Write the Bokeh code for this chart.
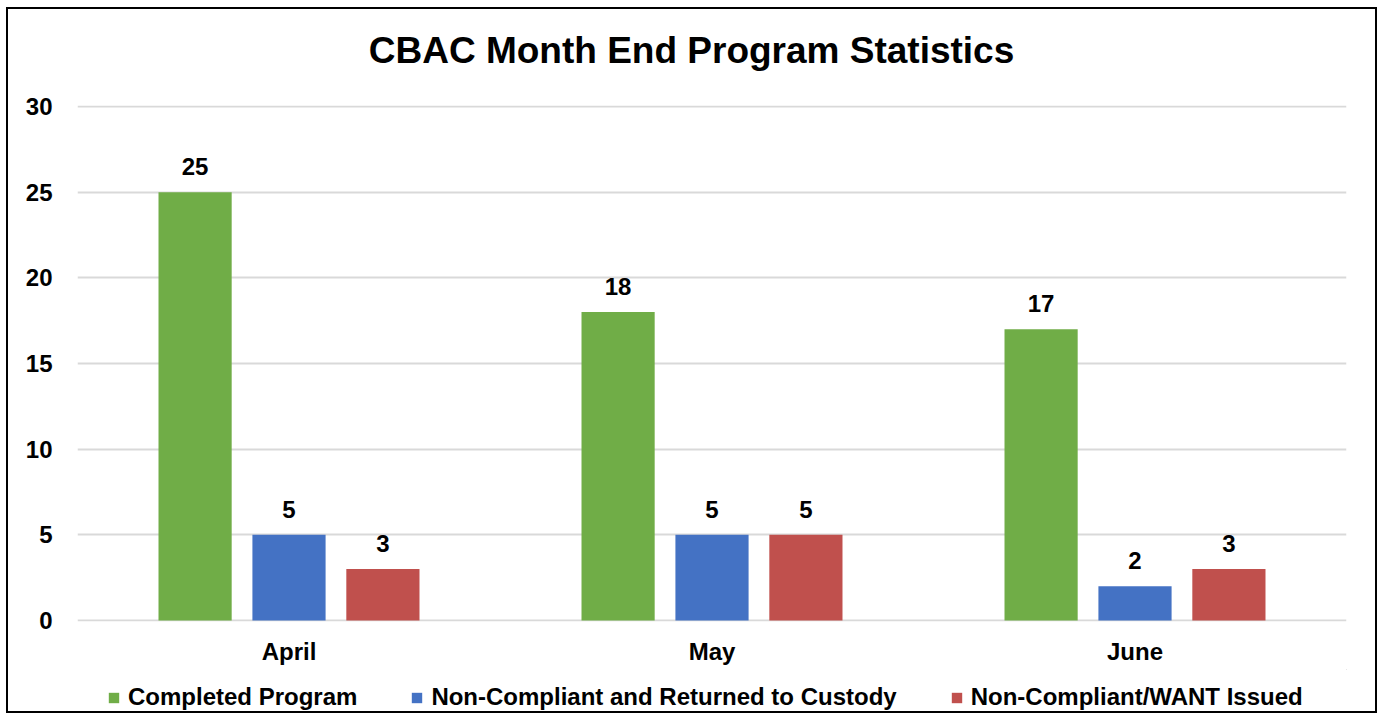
from bokeh.plotting import figure
from bokeh.layouts import column
from bokeh.models import ColumnDataSource, FactorRange, Range1d, Legend, LegendItem, LabelSet, Label
from bokeh.transform import dodge
from bokeh.core.properties import value
from bokeh.embed import file_html
from bokeh.resources import INLINE

months = ["April", "May", "June"]
completed = [25, 18, 17]
returned = [5, 5, 2]
want_issued = [3, 5, 3]
series_names = ["Completed Program", "Non-Compliant and Returned to Custody", "Non-Compliant/WANT Issued"]
colors = ["#70ad47", "#4472c4", "#c0504d"]
y_ticks = [0, 5, 10, 15, 20, 25, 30]
title_text = "CBAC Month End Program Statistics"

FONT = "Liberation Sans"
FS = "24px"
W = 1367


def strip(height):
    f = figure(x_range=Range1d(0, 1), y_range=Range1d(0, 1), width=W, height=height,
               output_backend="svg", toolbar_location=None,
               x_axis_location=None, y_axis_location=None,
               min_border_left=0, min_border_right=0, min_border_top=0, min_border_bottom=0)
    f.grid.visible = False
    f.outline_line_color = None
    return f


# title strip (its frame is aligned with the chart's frame by the column layout)
pt = strip(80)
pt.add_layout(Label(x=614, y=39, x_units="screen", y_units="screen", text=title_text,
                    text_align="center", text_baseline="middle", text_font=FONT,
                    text_font_size="37px", text_font_style="bold", text_color="black"))

# main chart
src = ColumnDataSource(dict(month=months, completed=completed, returned=returned, want=want_issued))

p = figure(x_range=FactorRange(*months), y_range=Range1d(-0.06, 30.06),
           width=W, height=580, output_backend="svg", toolbar_location=None,
           min_border_left=69, min_border_right=29, min_border_top=16, min_border_bottom=48)

keys = ["completed", "returned", "want"]
offsets = [-0.222, 0.0, 0.222]
for key, off, col in zip(keys, offsets, colors):
    p.vbar(x=dodge("month", off, range=p.x_range), top=key, width=0.173, source=src,
           fill_color=col, line_color=None)
    lbl = LabelSet(x=dodge("month", off, range=p.x_range), y=key, text=key, source=src,
                   text_align="center", text_baseline="alphabetic", y_offset=17,
                   text_font=value(FONT), text_font_size=value(FS), text_font_style=value("bold"),
                   text_color="black")
    p.add_layout(lbl)

p.yaxis.ticker = y_ticks
p.yaxis.axis_line_color = None
p.yaxis.major_tick_line_color = None
p.yaxis.minor_tick_line_color = None
p.yaxis.major_tick_out = 0
p.yaxis.minor_tick_out = 0
p.yaxis.major_label_standoff = 25
p.xaxis.axis_line_color = None
p.xaxis.major_tick_line_color = None
p.xaxis.major_tick_out = 0
p.xaxis.major_label_standoff = 16
for ax in (p.xaxis, p.yaxis):
    ax.major_label_text_font = FONT
    ax.major_label_text_font_size = FS
    ax.major_label_text_font_style = "bold"
    ax.major_label_text_color = "black"

p.xgrid.grid_line_color = None
p.ygrid.grid_line_color = "#d9d9d9"
p.ygrid.grid_line_width = 2
p.outline_line_color = None

# legend strip below the chart
pl = strip(42)
legend_renderers = [pl.vbar(x=[5], top=[5], bottom=[4], width=0.1, fill_color=c, line_color=None)
                    for c in colors]
legend = Legend(items=[LegendItem(label=n, renderers=[r]) for n, r in zip(series_names, legend_renderers)],
                orientation="horizontal", location=(30, 0),
                label_text_font=FONT, label_text_font_size=FS, label_text_font_style="bold",
                label_text_color="black", glyph_width=13, glyph_height=13, label_standoff=8,
                spacing=53, border_line_color=None, background_fill_alpha=0,
                padding=0, margin=0)
pl.add_layout(legend)

layout = column(pt, p, pl, spacing=0, margin=(7, 0, 0, 6),
                styles={"border": "2px solid black", "box-sizing": "content-box"})

open("out.html", "w").write(file_html(layout, INLINE))
